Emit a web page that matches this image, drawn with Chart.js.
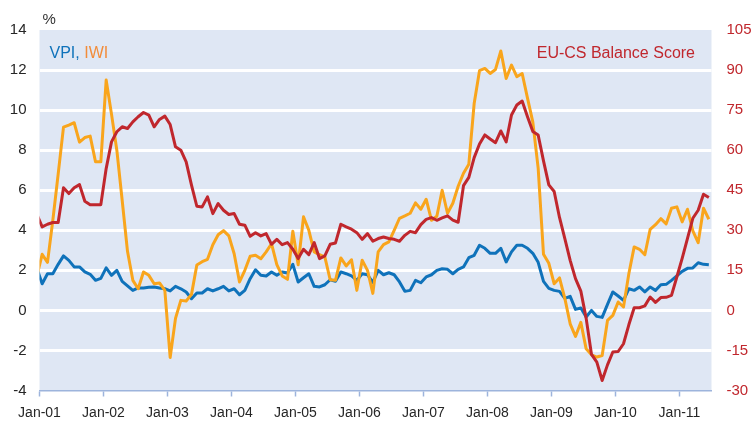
<!DOCTYPE html>
<html>
<head>
<meta charset="utf-8">
<script src="https://cdn.jsdelivr.net/npm/chart.js@4.4.1/dist/chart.umd.min.js"></script>
<style>
  html, body { margin: 0; padding: 0; background: #fff; }
  #wrap { width: 755px; height: 421px; }
</style>
</head>
<body>
<div id="wrap"><canvas id="chart" width="755" height="421"></canvas></div>
<script>
// Year ticks on the x axis (one every 12 months, starting Jan-01)
const yearTicks = ['Jan-01', 'Jan-02', 'Jan-03', 'Jan-04', 'Jan-05', 'Jan-06',
  'Jan-07', 'Jan-08', 'Jan-09', 'Jan-10', 'Jan-11'];

// Monthly values, Dec-00 (clipped at the left edge) through Jun-11
const vpi = [
  2.1,
  1.33, 1.83, 1.83, 2.3, 2.72, 2.5, 2.17, 2.17, 1.92, 1.8, 1.5, 1.6,
  2.12, 1.75, 2.0, 1.45, 1.22, 1.0, 1.12, 1.12, 1.15, 1.17, 1.12, 1.08,
  0.97, 1.2, 1.08, 0.92, 0.58, 0.87, 0.87, 1.08, 0.97, 1.08, 1.2, 0.97,
  1.08, 0.78, 1.0, 1.58, 2.03, 1.75, 1.72, 1.92, 1.75, 1.92, 1.87, 2.3,
  1.42, 1.63, 1.83, 1.2, 1.17, 1.28, 1.53, 1.45, 1.92, 1.83, 1.72, 1.5,
  1.83, 1.78, 1.4, 2.0, 1.78, 1.88, 1.78, 1.42, 0.95, 1.0, 1.5, 1.38,
  1.67, 1.78, 2.0, 2.08, 2.05, 1.83, 2.05, 2.17, 2.63, 2.75, 3.25, 3.1,
  2.85, 2.85, 3.1, 2.42, 2.92, 3.25, 3.25, 3.1, 2.85, 2.4, 1.45, 1.1,
  1.0, 0.95, 0.6, 0.7, 0.05, 0.12, -0.33, 0.0, -0.3, -0.35, 0.3, 0.92,
  0.72, 0.5, 1.08, 1.0, 1.17, 0.92, 1.17, 1.0, 1.28, 1.3, 1.5, 1.72,
  1.95, 2.1, 2.12, 2.38, 2.3, 2.28
];

const iwi = [
  1.7,
  2.8, 2.4, 4.5, 6.8, 9.15, 9.25, 9.37, 8.4, 8.63, 8.7, 7.42, 7.42,
  11.5, 9.8, 8.0, 5.5, 2.95, 1.5, 1.08, 1.92, 1.75, 1.33, 1.37, 1.0,
  -2.35, -0.4, 0.5, 0.47, 0.8, 2.27, 2.43, 2.55, 3.28, 3.78, 3.98, 3.72,
  2.83, 1.42, 2.0, 2.7, 2.75, 2.58, 2.92, 3.33, 2.28, 1.72, 1.55, 3.95,
  2.28, 4.67, 4.0, 2.92, 2.78, 2.67, 1.53, 1.5, 2.62, 2.22, 2.53, 1.0,
  2.5, 2.0, 0.85, 2.92, 3.28, 3.42, 4.0, 4.6, 4.72, 4.85, 5.37, 5.05,
  5.55, 4.5, 4.7, 6.0, 4.85, 5.35, 6.2, 6.85, 7.3, 10.33, 11.97, 12.08,
  11.83, 12.03, 12.95, 11.58, 12.25, 11.67, 11.83, 10.6, 9.4, 7.1, 2.8, 2.35,
  1.33, 1.62, 0.6, -0.67, -1.3, -0.6, -1.92, -2.22, -2.33, -2.25, -0.5, -0.25,
  0.42, 0.17, 1.83, 3.17, 3.05, 2.78, 4.05, 4.28, 4.58, 4.32, 5.1, 5.17,
  4.42, 5.05, 3.97, 3.38, 5.1, 4.55
];

const eucs = [
  36,
  31.25, 32.25, 32.9, 32.9, 45.9, 43.75, 45.9, 47.1, 40.9, 39.6, 39.6, 39.6,
  53.1, 63.1, 66.9, 68.75, 68.1, 70.6, 72.5, 74.1, 73.1, 68.75, 71.5, 72.75,
  69.6, 61.25, 60, 55.6, 46.9, 39, 38.75, 42.5, 36.25, 40, 37.5, 35.9,
  36.25, 32.25, 31.9, 27.75, 29.1, 27.9, 28.75, 24.75, 26.6, 24.6, 25.4, 22.9,
  19.4, 22.9, 20.9, 25.4, 19.4, 20.4, 24.75, 25.25, 32.25, 31.25, 30.4, 29.1,
  26.6, 28.75, 25.9, 26.9, 27.5, 26.9, 26.6, 25.9, 28.1, 29.6, 29.1, 32.1,
  34.1, 34.75, 33.75, 34.6, 35.4, 33.8, 33, 46.7, 49.8, 57.2, 62.3, 65.7,
  64.2, 62.8, 67.2, 63.1, 73.2, 76.9, 78.4, 72.5, 67, 65.7, 56, 47,
  44.5, 34.8, 26.9, 18.75, 11.9, 7.2, -3, -16.5, -19.4, -26.25, -20.4, -15.6,
  -15.4, -12.5, -5.4, 1.0, 1.0, 1.7, 5, 3, 4.8, 4.9, 5.6, 12.5,
  19.5, 27, 34.5, 37.5, 43.5, 42.3
];

const BLUE = '#0f72ba';
const ORANGE = '#f9a51c';
const RED = '#c0272d';
const AXIS_BLUE = '#9db4dc';
const FONT = "'Liberation Sans', Arial, sans-serif";

Chart.defaults.font.family = FONT;

// points sit in the middle of each month; Dec-00 lies just left of the axis
function toPoints(values) {
  return values.map((v, k) => ({ x: k - 0.5, y: v }));
}

const plotBackground = {
  id: 'plotBackground',
  beforeDraw(chart) {
    const { ctx, chartArea: a } = chart;
    ctx.save();
    ctx.fillStyle = '#dfe7f4';
    ctx.fillRect(a.left, a.top, a.right - a.left, a.bottom - a.top);
    ctx.restore();
  },
};

const innerLabels = {
  id: 'innerLabels',
  afterDraw(chart) {
    const { ctx } = chart;
    ctx.save();
    ctx.textBaseline = 'alphabetic';
    ctx.font = `15px ${FONT}`;
    ctx.fillStyle = '#333';
    ctx.fillText('%', 42.5, 23.5);

    ctx.font = `16px ${FONT}`;
    ctx.textAlign = 'left';
    ctx.fillStyle = BLUE;
    ctx.fillText('VPI,', 49.5, 57.5);
    const w = ctx.measureText('VPI, ').width;
    ctx.fillStyle = '#f28c3a';
    ctx.fillText('IWI', 49.5 + w, 57.5);

    ctx.textAlign = 'right';
    ctx.fillStyle = RED;
    ctx.fillText('EU-CS Balance Score', 695, 57.5);
    ctx.restore();
  },
};

new Chart(document.getElementById('chart').getContext('2d'), {
  type: 'line',
  data: {
    datasets: [
      {
        label: 'EU-CS Balance Score',
        data: toPoints(eucs),
        yAxisID: 'y2',
        borderColor: RED,
        borderWidth: 3,
        order: 0,
      },
      {
        label: 'IWI',
        data: toPoints(iwi),
        yAxisID: 'y',
        borderColor: ORANGE,
        borderWidth: 3,
        order: 1,
      },
      {
        label: 'VPI',
        data: toPoints(vpi),
        yAxisID: 'y',
        borderColor: BLUE,
        borderWidth: 3,
        order: 2,
      },
    ],
  },
  options: {
    responsive: false,
    animation: false,
    layout: { padding: { top: 30, left: 0, right: 0, bottom: 0 } },
    elements: {
      point: { radius: 0 },
      line: { tension: 0, borderJoinStyle: 'round', borderCapStyle: 'butt' },
    },
    datasets: { line: { clip: 0 } },
    plugins: {
      legend: { display: false },
      tooltip: { enabled: false },
    },
    scales: {
      x: {
        type: 'linear',
        min: 0,
        max: 126,
        afterBuildTicks: (scale) => {
          scale.ticks = yearTicks.map((_, k) => ({ value: k * 12 }));
        },
        afterFit: (scale) => { scale.height = 30.5; },
        ticks: {
          callback: (value) => yearTicks[value / 12],
          color: '#262626',
          font: { size: 14 },
          padding: 8,
          maxRotation: 0,
          autoSkip: false,
        },
        grid: {
          drawOnChartArea: false,
          drawTicks: true,
          tickLength: 6,
          tickColor: AXIS_BLUE,
          tickWidth: 1.5,
        },
        border: { display: true, color: AXIS_BLUE, width: 1.5 },
      },
      y: {
        position: 'left',
        min: -4,
        max: 14,
        afterFit: (scale) => { scale.width = 39.5; },
        ticks: {
          stepSize: 2,
          color: '#262626',
          font: { size: 15 },
          padding: 13,
        },
        grid: {
          drawTicks: false,
          lineWidth: 3,
          color: (ctx) => (ctx.tick && (ctx.tick.value === 14 || ctx.tick.value === -4))
            ? 'rgba(0,0,0,0)' : '#ffffff',
        },
        border: { display: false },
      },
      y2: {
        position: 'right',
        min: -30,
        max: 105,
        afterFit: (scale) => { scale.width = 43.5; },
        ticks: {
          stepSize: 15,
          color: RED,
          font: { size: 15 },
          padding: 15,
        },
        grid: { drawOnChartArea: false, drawTicks: false },
        border: { display: false },
      },
    },
  },
  plugins: [plotBackground, innerLabels],
});
</script>
</body>
</html>
